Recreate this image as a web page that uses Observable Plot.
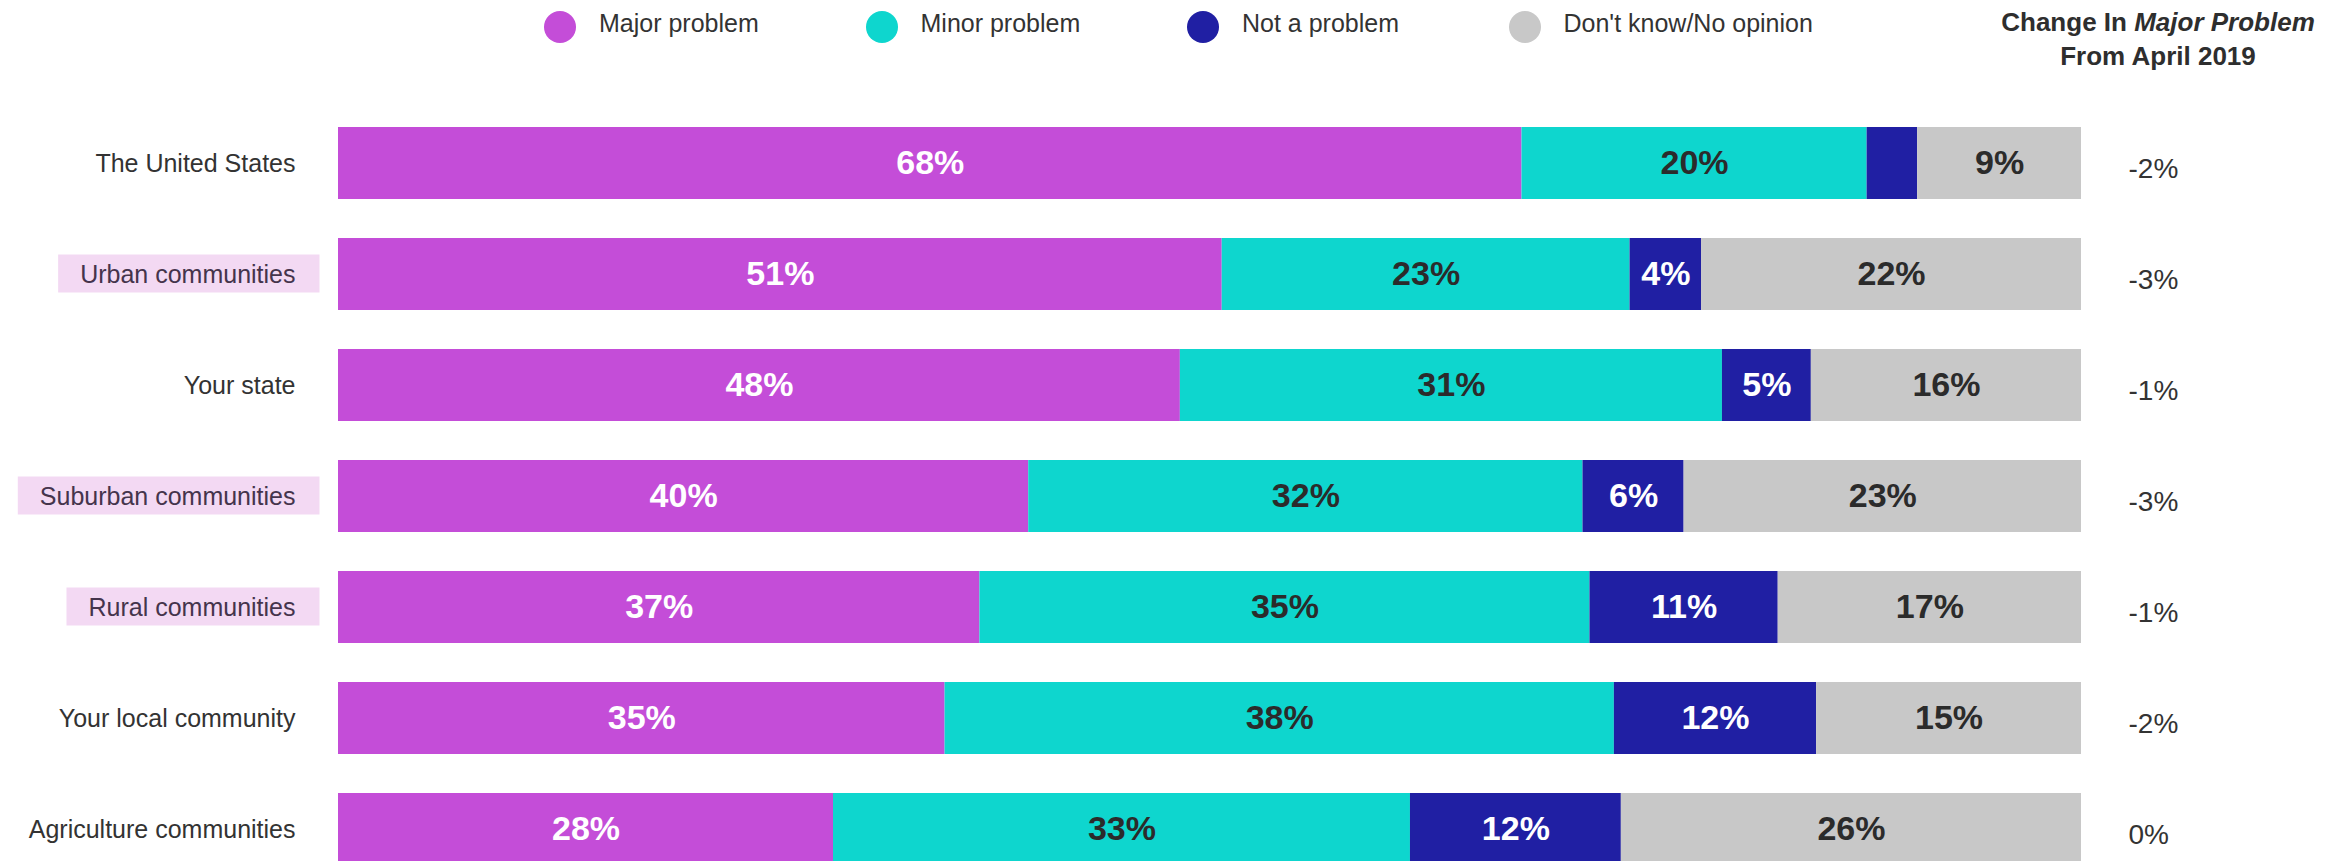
<!DOCTYPE html>
<html>
<head>
<meta charset="utf-8">
<script src="https://cdn.jsdelivr.net/npm/d3@7"></script>
<script src="https://cdn.jsdelivr.net/npm/@observablehq/plot@0.6"></script>
<style>
  html, body { margin: 0; padding: 0; background: #fff; width: 2346px; height: 861px; overflow: hidden; }
  body { font-family: "Liberation Sans", Arial, Helvetica, sans-serif; color: #333; }
  #top { position: relative; height: 80px; }
  #legend { position: absolute; left: 544px; top: 11px; display: flex; }
  .item { width: 321.5px; display: flex; align-items: flex-start; }
  .dot { width: 32px; height: 32px; border-radius: 50%; margin-right: 23px; flex: none; }
  .lab { font-size: 25px; line-height: 25px; color: #333; white-space: nowrap; }
  #hdr { position: absolute; left: 1958px; width: 400px; top: 5px; text-align: center;
         font-weight: bold; font-size: 26px; line-height: 34px; color: #2e2e2e; }
  #chart svg { display: block; }
</style>
</head>
<body>
<div id="top">
  <div id="legend"></div>
  <div id="hdr">Change In <i>Major Problem</i><br>From April 2019</div>
</div>
<div id="chart"></div>
<script>
const rows = [
  "The United States",
  "Urban communities",
  "Your state",
  "Suburban communities",
  "Rural communities",
  "Your local community",
  "Agriculture communities"
];
const categories = ["Major problem", "Minor problem", "Not a problem", "Don't know/No opinion"];
const colors = ["#C44DD8", "#0ED6CE", "#201FA3", "#C8C8C8"];

const majorProblem = [67.9, 50.7, 48.3, 39.6, 36.8, 34.8, 28.4];
const minorProblem = [19.8, 23.4, 31.1, 31.8, 35.0, 38.4, 33.1];
const notAProblem  = [2.9, 4.1, 5.1, 5.8, 10.8, 11.6, 12.1];
const dontKnow     = [9.4, 21.8, 15.5, 22.8, 17.4, 15.2, 26.4];
const changeMajor  = [-2, -3, -1, -3, -1, -2, 0];
const highlighted  = ["Urban communities", "Suburban communities", "Rural communities"];

const series = [majorProblem, minorProblem, notAProblem, dontKnow];
const data = rows.flatMap((row, i) => series.map((s, j) => ({row, cat: categories[j], value: s[i]})));
const changes = rows.map((row, i) => ({row, change: changeMajor[i]}));

// legend
const legend = d3.select("#legend");
categories.forEach((c, i) => {
  const it = legend.append("div").attr("class", "item");
  it.append("div").attr("class", "dot").style("background", colors[i]);
  it.append("div").attr("class", "lab").text(c);
});

const whiteCats = new Set(["Major problem", "Not a problem"]);
const lbl = d => d.value >= 3 ? Math.round(d.value) + "%" : "";

const chart = Plot.plot({
  width: 2346,
  height: 785,
  marginTop: 47,
  marginBottom: 0,
  marginLeft: 338,
  marginRight: 265,
  x: {domain: [0, 100], axis: null},
  y: {domain: rows, paddingInner: 0.3514, paddingOuter: 0, axis: null},
  color: {domain: categories, range: colors},
  style: {fontFamily: '"Liberation Sans", Arial, Helvetica, sans-serif', background: "white", overflow: "visible"},
  marks: [
    Plot.barX(data, {x: "value", y: "row", fill: "cat"}),
    Plot.text(data, Plot.stackX({x: "value", y: "row", z: "cat",
      text: d => whiteCats.has(d.cat) ? lbl(d) : "",
      fill: "white", fontSize: 34, fontWeight: "bold"})),
    Plot.text(data, Plot.stackX({x: "value", y: "row", z: "cat",
      text: d => whiteCats.has(d.cat) ? "" : lbl(d),
      fill: "#2b2b2b", fontSize: 34, fontWeight: "bold"})),
    Plot.text(changes, {y: "row", text: d => d.change + "%", frameAnchor: "right",
      textAnchor: "start", dx: 47, dy: 6, fontSize: 28, fill: "#333"}),
    Plot.axisY({tickSize: 0, tickPadding: 43, fontSize: 25, label: null, color: "#333"})
  ]
});

document.getElementById("chart").append(chart);

// highlight boxes behind selected row labels
d3.select(chart).selectAll('g[aria-label="y-axis tick label"] text').each(function() {
  const t = this.textContent;
  if (!highlighted.includes(t)) return;
  const bb = this.getBBox();
  const r = document.createElementNS("http://www.w3.org/2000/svg", "rect");
  const cy = bb.y + bb.height / 2;
  r.setAttribute("x", bb.x - 22);
  r.setAttribute("width", bb.width + 46);
  r.setAttribute("y", cy - 19);
  r.setAttribute("height", 38);
  r.setAttribute("fill", "#F3D9F3");
  if (this.getAttribute("transform")) r.setAttribute("transform", this.getAttribute("transform"));
  this.parentNode.insertBefore(r, this);
  this.setAttribute("fill", "#45344c");
});
</script>
</body>
</html>
